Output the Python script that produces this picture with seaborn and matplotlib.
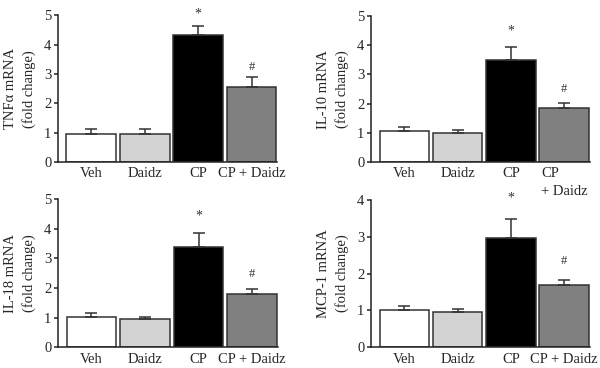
import numpy as np
import matplotlib
matplotlib.use("Agg")
import matplotlib.pyplot as plt
import seaborn as sns

categories = ["Veh", "Daidz", "CP", "CP + Daidz"]
bar_colors = ["#ffffff", "#d3d3d3", "#000000", "#808080"]

tnfa_mean = [0.97, 0.94, 4.33, 2.57]
tnfa_sem = [0.16, 0.17, 0.30, 0.32]
il10_mean = [1.05, 0.98, 3.51, 1.85]
il10_sem = [0.16, 0.12, 0.45, 0.18]
il18_mean = [1.01, 0.96, 3.38, 1.79]
il18_sem = [0.13, 0.07, 0.47, 0.16]
mcp1_mean = [1.00, 0.95, 2.97, 1.68]
mcp1_sem = [0.12, 0.09, 0.53, 0.15]

labels_single = ["Veh", "Daidz", "CP", "CP + Daidz"]
labels_wrapped = ["Veh", "Daidz", "CP", "CP\n+ Daidz"]

# (mean, sem, ylabel, ymax, xticklabels, star offset pt, hash offset pt, axes rect)
panels = [
    (tnfa_mean, tnfa_sem, "TNFα mRNA\n(fold change)", 5, labels_single, 6.5, 5,
     [0.097, 0.560, 0.365, 0.398]),
    (il10_mean, il10_sem, "IL-10 mRNA\n(fold change)", 5, labels_wrapped, 8.5, 7.5,
     [0.619, 0.560, 0.364, 0.396]),
    (il18_mean, il18_sem, "IL-18 mRNA\n(fold change)", 5, labels_single, 10, 9,
     [0.097, 0.057, 0.366, 0.401]),
    (mcp1_mean, mcp1_sem, "MCP-1 mRNA\n(fold change)", 4, labels_single, 12, 11.5,
     [0.619, 0.057, 0.364, 0.399]),
]

sns.set_style("ticks")
plt.rcParams["font.family"] = ["Liberation Serif", "DejaVu Serif"]
plt.rcParams["font.size"] = 10.5

fig = plt.figure(figsize=(6, 3.68), dpi=100)

for mean, sem, ylabel, ymax, xlabels, star_off, hash_off, rect in panels:
    ax = fig.add_axes(rect)
    sns.barplot(x=categories, y=mean, hue=categories, palette=bar_colors,
                width=0.93, edgecolor="#333333", linewidth=1.1,
                errorbar=None, legend=False, ax=ax)
    pos = np.arange(len(categories))
    ax.errorbar(pos, mean, yerr=[np.zeros(len(sem)), sem], fmt="none",
                ecolor="#333333", elinewidth=1.1, capsize=4.2, capthick=1.1)
    tops = np.array(mean) + np.array(sem)
    ax.annotate("*", xy=(2, tops[2]), xytext=(0, star_off),
                textcoords="offset points", ha="center", va="baseline",
                fontsize=10, color="#333333")
    ax.annotate("#", xy=(3, tops[3]), xytext=(0, hash_off),
                textcoords="offset points", ha="center", va="baseline",
                fontsize=9, color="#333333")

    ax.set_xlim(-0.62, 3.48)
    ax.set_ylim(0, ymax)
    ax.set_yticks(range(ymax + 1))
    ax.set_xticks(pos)
    ax.set_xticklabels(xlabels, multialignment="left", linespacing=1.45)
    ax.tick_params(axis="x", length=0, pad=4, labelsize=10.5)
    ax.tick_params(axis="y", length=3, width=1.1, pad=2, labelsize=10.5)
    ax.set_ylabel(ylabel, fontsize=10.5, linespacing=1.45, labelpad=6)
    sns.despine(ax=ax)
    for s in ("left", "bottom"):
        ax.spines[s].set_linewidth(1.1)
        ax.spines[s].set_color("#222222")

fig.savefig("out.png", dpi=100)
